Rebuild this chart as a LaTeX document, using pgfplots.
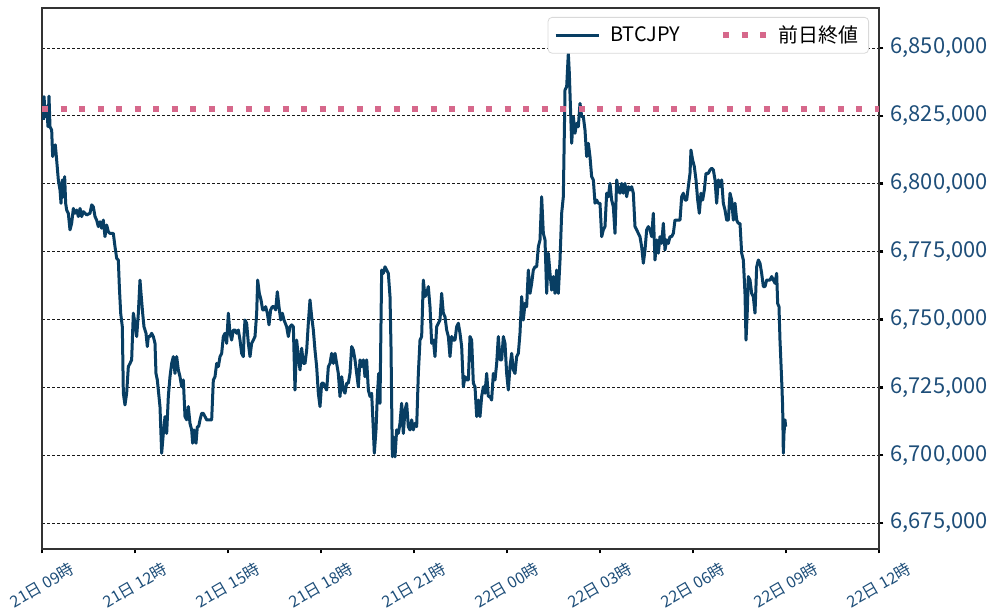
\documentclass[border=0pt]{standalone}
\usepackage{fontspec}
\setmainfont{Noto Sans CJK JP}
\usepackage{pgfplots}
\usepackage{pgfplotstable}
\pgfplotsset{compat=1.18}
\pgfplotsset{legend image code/.code={\draw[#1] (0bp,0bp) -- (21.5bp,0bp);}}
\definecolor{btc}{RGB}{8,62,99}
\definecolor{prev}{RGB}{214,104,139}
\definecolor{tickc}{RGB}{30,78,121}

\pgfplotstableread{
h v
0.043 6823500
0.065 6832100
0.107 6824700
0.151 6828400
0.194 6821000
0.226 6832300
0.258 6821000
0.312 6819800
0.344 6810000
0.387 6813700
0.430 6814300
0.473 6808700
0.527 6801400
0.581 6797700
0.613 6792800
0.656 6801400
0.688 6795200
0.731 6802600
0.763 6792800
0.796 6790300
0.849 6789100
0.903 6783000
0.957 6785400
1.011 6790900
1.065 6789100
1.118 6790300
1.172 6787900
1.226 6790900
1.280 6787900
1.333 6789700
1.441 6788500
1.548 6789100
1.602 6792200
1.656 6791500
1.710 6787900
1.763 6786600
1.817 6784200
1.871 6786000
1.925 6783600
1.978 6786600
2.032 6780500
2.086 6784800
2.140 6782300
2.194 6781700
2.301 6781700
2.355 6776800
2.409 6772500
2.462 6771900
2.495 6762100
2.538 6752300
2.591 6747300
2.624 6722800
2.677 6718500
2.731 6722800
2.785 6732600
2.839 6733800
2.892 6735100
2.946 6752300
3.000 6748600
3.054 6743700
3.108 6752300
3.161 6764500
3.194 6759600
3.247 6752300
3.290 6747300
3.355 6744900
3.398 6740000
3.430 6743700
3.484 6743700
3.538 6744900
3.591 6743700
3.645 6741200
3.677 6730100
3.720 6727700
3.763 6722800
3.806 6717900
3.860 6700700
3.914 6708000
3.968 6714200
4.022 6708000
4.075 6721600
4.129 6728900
4.183 6733800
4.237 6736300
4.290 6730100
4.344 6736300
4.398 6731400
4.452 6728900
4.505 6725200
4.559 6727700
4.613 6714200
4.667 6713000
4.720 6717900
4.774 6711700
4.828 6709300
4.860 6704400
4.903 6709300
4.968 6704400
5.011 6710500
5.054 6710500
5.097 6713000
5.151 6715400
5.204 6715400
5.258 6714200
5.312 6713000
5.419 6713000
5.473 6713000
5.527 6727700
5.581 6728900
5.634 6733800
5.688 6732600
5.742 6736300
5.796 6737500
5.849 6743700
5.903 6744900
5.957 6741200
6.011 6752300
6.065 6744900
6.118 6742400
6.172 6746100
6.226 6746100
6.280 6744900
6.333 6746100
6.387 6742400
6.441 6737500
6.495 6736300
6.516 6743700
6.548 6749800
6.602 6748600
6.656 6741200
6.710 6736300
6.763 6741200
6.817 6742400
6.871 6743700
6.925 6752300
6.957 6764500
7.011 6759600
7.065 6757200
7.118 6753500
7.161 6753500
7.215 6754700
7.269 6752300
7.323 6748000
7.376 6753500
7.430 6754700
7.484 6754700
7.538 6753500
7.591 6760200
7.645 6754700
7.699 6749800
7.753 6752300
7.806 6749800
7.892 6747300
7.946 6743700
8.000 6747300
8.054 6748000
8.108 6747300
8.161 6724000
8.215 6742400
8.269 6736300
8.323 6731400
8.376 6739400
8.430 6733800
8.484 6733800
8.538 6738700
8.591 6748600
8.645 6757200
8.699 6751000
8.753 6746100
8.806 6738700
8.860 6732600
8.914 6722800
8.968 6717900
9.022 6726500
9.075 6726500
9.129 6725200
9.183 6724000
9.237 6732600
9.290 6733800
9.344 6737500
9.398 6733800
9.452 6737500
9.505 6733800
9.559 6730100
9.613 6721600
9.667 6728900
9.720 6724000
9.774 6722800
9.828 6726500
9.882 6726500
9.935 6730100
9.989 6740000
10.043 6738700
10.097 6735100
10.151 6730100
10.204 6725200
10.258 6735100
10.312 6732600
10.366 6735100
10.419 6728900
10.473 6735100
10.527 6724000
10.581 6721600
10.634 6722800
10.688 6709300
10.720 6700700
10.774 6709300
10.817 6721600
10.860 6730100
10.903 6719100
10.957 6768200
11.011 6767000
11.065 6769400
11.118 6768200
11.172 6767000
11.226 6758400
11.258 6740000
11.301 6699400
11.333 6706800
11.387 6699400
11.441 6709300
11.495 6708000
11.548 6711700
11.602 6719100
11.656 6708000
11.710 6716600
11.763 6719100
11.817 6710500
11.871 6709300
11.925 6713000
11.978 6709300
12.032 6711700
12.086 6710500
12.140 6730100
12.194 6742400
12.247 6743700
12.301 6764500
12.355 6758400
12.409 6759600
12.462 6762100
12.516 6754700
12.570 6741200
12.624 6742400
12.677 6736300
12.731 6747300
12.785 6748600
12.839 6749800
12.892 6759600
12.946 6752300
13.000 6751000
13.054 6746100
13.108 6743700
13.161 6736300
13.215 6743700
13.269 6742400
13.323 6742400
13.376 6747300
13.430 6748600
13.484 6744900
13.538 6740000
13.591 6725200
13.645 6728900
13.699 6727700
13.753 6727700
13.806 6743700
13.860 6742400
13.914 6726500
13.968 6725200
14.022 6714200
14.075 6720300
14.129 6714200
14.183 6721600
14.237 6725200
14.290 6722800
14.344 6730100
14.398 6721600
14.452 6721600
14.505 6720300
14.559 6730100
14.613 6727700
14.667 6733800
14.720 6743700
14.774 6735100
14.828 6735100
14.882 6743700
14.935 6741200
14.989 6730100
15.043 6724000
15.097 6732600
15.151 6737500
15.204 6731400
15.258 6730100
15.312 6736300
15.366 6737500
15.419 6744900
15.473 6758400
15.527 6749800
15.581 6755900
15.634 6754700
15.688 6768200
15.742 6759600
15.796 6763300
15.849 6768200
15.903 6769400
15.957 6769400
16.011 6776800
16.065 6779300
16.118 6795200
16.172 6781700
16.226 6779300
16.280 6759600
16.333 6774400
16.387 6767000
16.441 6760800
16.495 6765800
16.548 6759600
16.602 6768200
16.656 6759600
16.710 6771900
16.763 6789100
16.817 6795200
16.871 6834500
16.925 6835800
16.978 6848000
17.011 6840700
17.032 6833300
17.086 6814900
17.140 6824700
17.194 6818600
17.247 6822200
17.301 6821000
17.355 6829600
17.409 6824700
17.462 6824700
17.516 6819800
17.570 6810000
17.624 6814900
17.677 6810000
17.731 6802600
17.785 6801400
17.839 6792800
17.892 6794000
17.946 6792800
18.000 6792800
18.054 6780500
18.108 6783000
18.161 6784200
18.215 6796500
18.269 6795200
18.323 6800100
18.376 6794000
18.430 6791500
18.484 6781700
18.538 6801400
18.591 6797700
18.645 6796500
18.699 6800100
18.753 6796500
18.806 6800100
18.860 6795200
18.914 6798900
18.968 6797700
19.022 6798900
19.075 6796500
19.129 6784200
19.183 6783000
19.237 6781700
19.290 6780500
19.344 6776800
19.398 6770700
19.452 6775600
19.505 6783000
19.559 6784200
19.613 6783000
19.667 6780500
19.720 6789100
19.774 6771900
19.828 6779300
19.882 6774400
19.935 6780500
19.989 6778000
20.043 6785400
20.097 6775600
20.151 6779300
20.204 6778000
20.258 6780500
20.312 6780500
20.366 6781700
20.419 6786600
20.473 6786600
20.581 6786600
20.634 6795200
20.688 6796500
20.742 6794000
20.796 6794000
20.849 6798900
20.903 6803800
20.935 6812400
20.989 6808700
21.043 6806300
21.097 6801400
21.151 6794000
21.204 6789100
21.258 6796500
21.312 6794000
21.366 6797700
21.419 6803800
21.495 6803800
21.548 6805100
21.602 6805700
21.656 6805100
21.710 6801400
21.763 6792800
21.817 6801400
21.871 6798900
21.925 6801400
21.978 6792800
22.032 6790300
22.086 6786600
22.140 6786600
22.194 6796500
22.247 6794000
22.301 6786600
22.355 6792800
22.409 6786600
22.462 6785400
22.516 6785400
22.570 6774400
22.624 6771900
22.677 6759600
22.710 6742400
22.753 6753500
22.785 6765800
22.839 6764500
22.892 6759600
22.946 6758400
23.000 6752300
23.054 6769400
23.108 6771900
23.161 6770700
23.215 6767000
23.269 6762100
23.323 6762100
23.376 6764500
23.430 6764500
23.484 6764500
23.538 6765800
23.591 6764500
23.645 6763300
23.699 6767000
23.731 6755900
23.774 6754700
23.806 6742400
23.860 6727700
23.892 6717900
23.914 6700700
23.935 6708000
23.968 6713000
23.989 6710500
}\btcdata

\begin{document}
\begin{tikzpicture}
\path[use as bounding box] (-21bp,-32bp) rectangle (474.5bp,274.5bp);
\begin{axis}[
  at={(0,0)}, anchor=south west,
  scale only axis, width=418.5bp, height=270.5bp,
  xmin=0, xmax=27, ymin=6665420, ymax=6864740,
  xtick={0,3,6,9,12,15,18,21,24,27},
  xticklabels={21日 09時,21日 12時,21日 15時,21日 18時,21日 21時,22日 00時,22日 03時,22日 06時,22日 09時,22日 12時},
  ytick={6675000,6700000,6725000,6750000,6775000,6800000,6825000,6850000},
  scaled y ticks=false,
  /pgf/number format/assume math mode=true,
  /pgf/number format/fixed,
  /pgf/number format/precision=0,
  /pgf/number format/1000 sep={,},
  yticklabel pos=right,
  ytick pos=right,
  xtick pos=left,
  tick align=outside,
  major tick length=2.2bp,
  major tick style={black, line width=1.3bp},
  axis line style={black!80, line width=0.6bp},
  ymajorgrids,
  major grid style={black!90, line width=0.4bp, dash pattern=on 1.6bp off 0.9bp},
  y tick label style={font=\fontsize{11}{13}\selectfont, text=tickc},
  x tick label style={font=\fontsize{8}{9}\selectfont, text=tickc, yshift=-16bp, rotate=30, anchor=center},
  legend columns=2,
  legend cell align=left,
  legend style={at={(1,1)}, anchor=north east, xshift=-5bp, yshift=-4.5bp,
    draw=black!15, rounded corners=2bp, fill=white,
    font=\fontsize{10}{12}\selectfont, inner xsep=3bp, inner ysep=2bp,
    /tikz/every odd column/.append style={column sep=3bp},
    /tikz/every even column/.append style={column sep=18bp}},
]
\addplot[btc, line width=1.5bp, line join=round, no markers]
  table[x=h, y=v] {\btcdata};
\addlegendentry{BTCJPY}
\addplot[prev, line width=2.9bp, dash pattern=on 3bp off 6.25bp, no markers]
  coordinates {(0,6827500) (27,6827500)};
\addlegendentry{前日終値}
\end{axis}
\end{tikzpicture}
\end{document}
